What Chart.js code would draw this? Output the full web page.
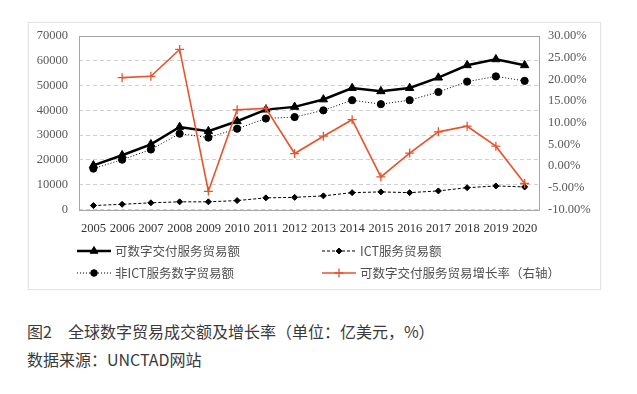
<!DOCTYPE html>
<html>
<head>
<meta charset="utf-8">
<script src="https://cdn.jsdelivr.net/npm/chart.js@4"></script>
<style>
  html, body { margin: 0; padding: 0; background: #fff; }
  body { width: 637px; height: 394px; position: relative; overflow: hidden; }
  #frame {
    position: absolute; left: 28px; top: 22px; width: 571px; height: 266px;
    border: 1px solid #e4e4e4; box-shadow: 0 0 2px rgba(0,0,0,0.08);
  }
  #chart { position: absolute; left: 0; top: 0; }
  .cap {
    position: absolute; left: 27px; font-family: "Noto Sans CJK SC", sans-serif;
    font-size: 16px; color: #3a3a3a; white-space: nowrap;
  }
</style>
</head>
<body>
<div id="frame"></div>
<canvas id="chart" width="637" height="300"></canvas>
<div class="cap" style="top:319px;">图2　全球数字贸易成交额及增长率（单位：亿美元，%）</div>
<div class="cap" style="top:347px;">数据来源：UNCTAD网站</div>
<script>
// 数据
const years = ['2005','2006','2007','2008','2009','2010','2011','2012','2013','2014','2015','2016','2017','2018','2019','2020'];
const digitalServices = [17800, 21900, 26300, 33300, 31600, 35600, 40300, 41400, 44400, 49000, 47700, 49000, 53200, 58200, 60600, 58200];
const ictServices = [1600, 2100, 2700, 3100, 3100, 3600, 4700, 4900, 5500, 6800, 7100, 6800, 7500, 8800, 9500, 9100];
const nonIctServices = [16500, 20100, 24200, 30600, 29000, 32600, 36700, 37300, 40000, 44100, 42500, 44100, 47400, 51600, 53700, 51900];
const growthRate = [null, 20.4, 20.7, 26.9, -5.8, 13.0, 13.3, 2.9, 6.9, 10.7, -2.5, 3.0, 7.9, 9.2, 4.6, -4.0];

const leftMax = 70000, leftStep = 10000;
const rightMin = -10, rightMax = 30, rightStep = 5;

const RED = '#e8532c';
const serif = '"Liberation Serif", "Times New Roman", serif';

// 图例位置（2x2）
const legendSlots = [
    { x: 77, y: 251 },   // 可数字交付服务贸易额
    { x: 322, y: 251 },  // ICT服务贸易额
    { x: 77, y: 273 },   // 非ICT服务数字贸易额
    { x: 322, y: 273 }   // 增长率
];

const legendPlugin = {
    id: 'gridLegend',
    afterDraw(chart) {
        const ctx = chart.ctx;
        chart.data.datasets.forEach((ds, i) => {
            const s = legendSlots[i];
            ctx.save();
            ctx.strokeStyle = ds.borderColor;
            ctx.fillStyle = ds.pointBackgroundColor || ds.borderColor;
            ctx.lineWidth = ds.borderWidth;
            ctx.setLineDash(ds.borderDash || []);
            ctx.beginPath();
            ctx.moveTo(s.x, s.y);
            ctx.lineTo(s.x + 34, s.y);
            ctx.stroke();
            ctx.setLineDash([]);
            ctx.lineWidth = ds.pointBorderWidth || 1;
            Chart.helpers.drawPoint(ctx, {
                pointStyle: ds.pointStyle,
                radius: ds.legendRadius,
                rotation: 0,
                borderWidth: ds.pointBorderWidth || 1
            }, s.x + 17, s.y);
            ctx.fillStyle = '#505050';
            ctx.font = '12.5px "Noto Sans CJK SC", sans-serif';
            ctx.textBaseline = 'middle';
            ctx.fillText(ds.label, s.x + 38, s.y);
            ctx.restore();
        });
    }
};

// 绘图区边框
const frameBorder = {
    id: 'frameBorder',
    beforeDatasetsDraw(chart) {
        const { ctx, chartArea: a } = chart;
        ctx.save();
        ctx.strokeStyle = '#a6a6a6';
        ctx.lineWidth = 1;
        ctx.strokeRect(Math.round(a.left) + 0.5, Math.round(a.top) + 0.5,
            Math.round(a.right - a.left), Math.round(a.bottom - a.top));
        ctx.restore();
    }
};

new Chart(document.getElementById('chart'), {
    type: 'line',
    data: {
        labels: years,
        datasets: [
            {
                label: '可数字交付服务贸易额',
                data: digitalServices,
                yAxisID: 'y',
                borderColor: '#000',
                backgroundColor: '#000',
                pointBackgroundColor: '#000',
                borderWidth: 2.5,
                pointStyle: 'triangle',
                pointRadius: 4.8,
                legendRadius: 4.5,
                pointBorderWidth: 1,
                tension: 0,
                order: 2
            },
            {
                label: 'ICT服务贸易额',
                data: ictServices,
                yAxisID: 'y',
                borderColor: '#000',
                backgroundColor: '#000',
                pointBackgroundColor: '#000',
                borderWidth: 1,
                borderDash: [3, 2],
                pointStyle: 'rectRot',
                pointRadius: 3,
                legendRadius: 3,
                pointBorderWidth: 1,
                order: 3
            },
            {
                label: '非ICT服务数字贸易额',
                data: nonIctServices,
                yAxisID: 'y',
                borderColor: '#000',
                backgroundColor: '#000',
                pointBackgroundColor: '#000',
                borderWidth: 1,
                borderDash: [1, 2],
                pointStyle: 'circle',
                pointRadius: 3.6,
                legendRadius: 3.3,
                pointBorderWidth: 1,
                order: 4
            },
            {
                label: '可数字交付服务贸易增长率（右轴）',
                data: growthRate,
                yAxisID: 'y1',
                borderColor: RED,
                backgroundColor: RED,
                pointBackgroundColor: RED,
                borderWidth: 1.6,
                pointStyle: 'cross',
                pointRadius: 4.5,
                legendRadius: 4.5,
                pointBorderWidth: 1.3,
                order: 1
            }
        ]
    },
    options: {
        responsive: false,
        animation: false,
        layout: { padding: { top: 36, left: 0, right: 0, bottom: 0 } },
        plugins: {
            legend: { display: false },
            tooltip: { enabled: false }
        },
        scales: {
            x: {
                offset: true,
                grid: { display: false, drawTicks: false },
                border: { display: false },
                ticks: { color: '#333', padding: 12, font: { family: serif, size: 12.5 }, maxRotation: 0 },
                afterFit: s => { s.height = 90.5; }
            },
            y: {
                position: 'left',
                min: 0, max: leftMax,
                ticks: {
                    stepSize: leftStep, color: '#595959', padding: 11,
                    font: { family: serif, size: 12.5 },
                    callback: v => String(v)
                },
                grid: { color: '#d0d0d0', drawTicks: false, lineWidth: 1 },
                border: { display: false, dash: [4, 3] },
                afterFit: s => { s.width = 79; }
            },
            y1: {
                position: 'right',
                min: rightMin, max: rightMax,
                ticks: {
                    stepSize: rightStep, color: '#595959', padding: 9,
                    font: { family: serif, size: 12.5 },
                    callback: v => v.toFixed(2) + '%'
                },
                grid: { display: false, drawTicks: false },
                border: { display: false },
                afterFit: s => { s.width = 98; }
            }
        }
    },
    plugins: [frameBorder, legendPlugin]
});
</script>
</body>
</html>
